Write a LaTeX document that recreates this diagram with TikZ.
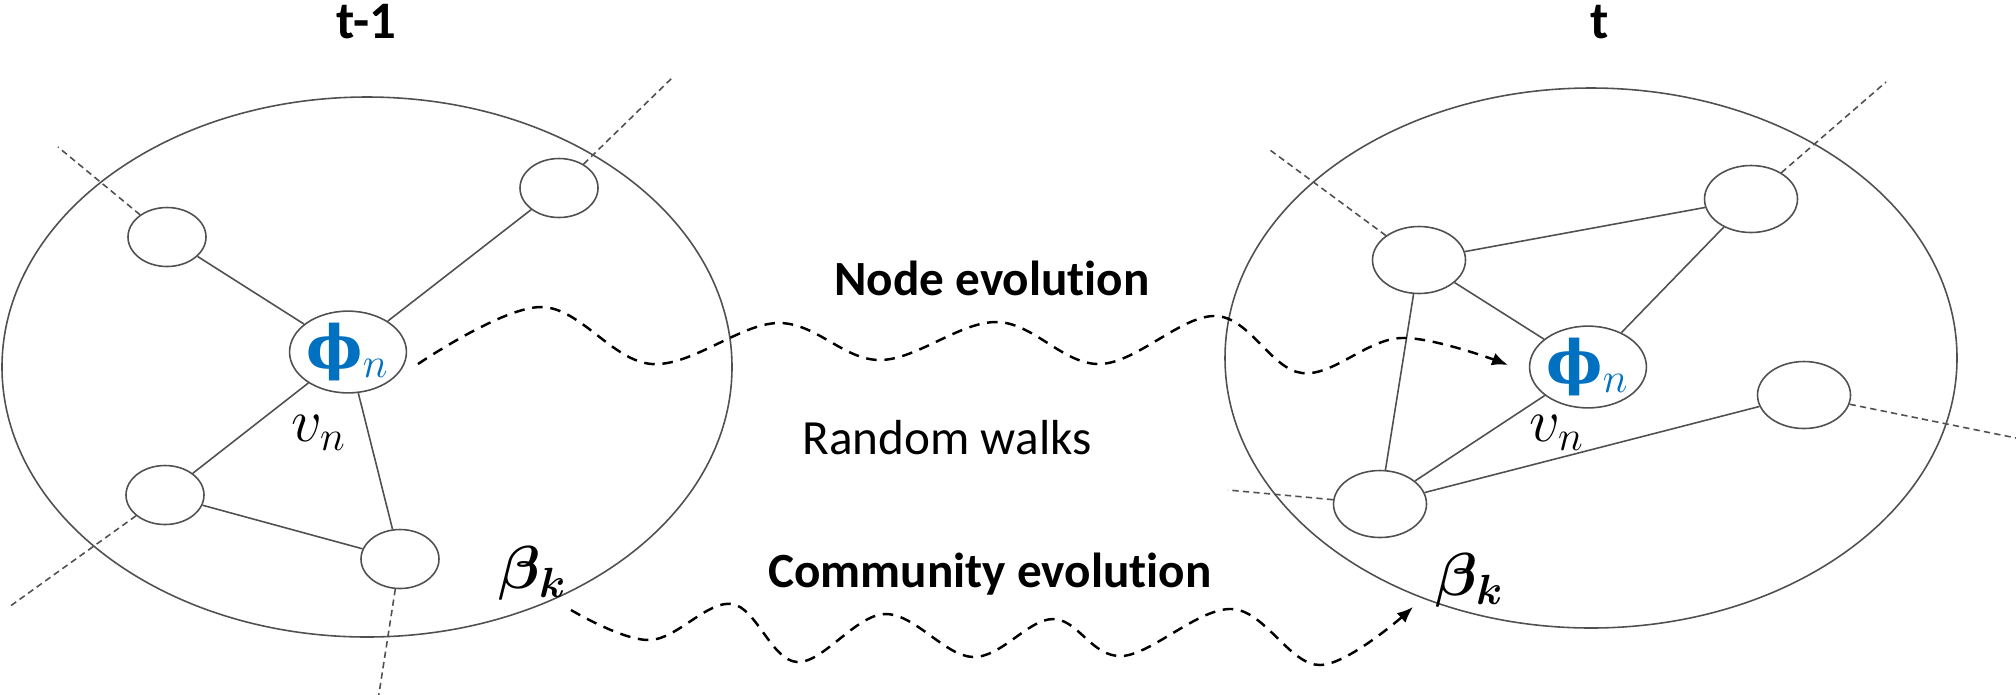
\documentclass[tikz,border=0pt]{standalone}
\usepackage{amsmath}
\usepackage{fontspec}
\setmainfont{Carlito}[Ligatures={NoCommon}]
\newfontfamily\phifont{DejaVu Serif}
\usetikzlibrary{shapes.geometric,arrows.meta}
\definecolor{phiblue}{RGB}{0,112,192}
\definecolor{linegray}{RGB}{80,80,80}
\tikzset{
  comm/.style={draw=linegray,ellipse,line width=0.45pt,minimum width=73mm,minimum height=54mm},
  vert/.style={draw=linegray,ellipse,line width=0.45pt,fill=white,inner sep=0pt,minimum width=7.8mm,minimum height=5.9mm},
  vertb/.style={vert,minimum width=9.3mm,minimum height=6.7mm},
  hub/.style={vert,minimum width=10.9mm,minimum height=7.7mm},
  link/.style={draw=linegray,line width=0.45pt},
  ext/.style={draw=linegray,line width=0.45pt,dash pattern=on 1.8pt off 1.2pt},
  walk/.style={line width=0.7pt,dash pattern=on 3pt off 2.2pt,-{Latex[length=1.6mm,width=1.3mm]}},
  title/.style={font=\fontsize{15}{18}\selectfont\bfseries},
  caption/.style={font=\fontsize{14}{17}\selectfont},
  mlabel/.style={font=\fontsize{17}{20}\selectfont}
}
\newcommand{\phin}{\textcolor{phiblue}{\fontsize{17}{20}\selectfont{\phifont\bfseries ϕ}$_{n}$}}

\begin{document}
\begin{tikzpicture}[x=0.1mm,y=-0.1mm]
\useasboundingbox (0,0) rectangle (2016,694);

% communities
\node[comm] (commL) at (367,367) {};
\node[comm,minimum width=73.2mm] (commR) at (1591,358) {};

\node[title] (tL) at (366,22) {t-1};
\node[title] (tR) at (1600,22) {t};

% graph at t-1
\node[vert] (aL) at (167,237) {};
\node[vert] (bL) at (559,188) {};
\node[hub] (vL) at (348,352) {\phin};
\node[vert] (cL) at (165,495) {};
\node[vert] (dL) at (400,559) {};
\node[mlabel] (vnL) at (319,433) {$v_n$};
\node[mlabel] (bkL) at (533,573) {$\boldsymbol{\beta_k}$};

\draw[link] (aL) -- (vL);
\draw[link] (bL) -- (vL);
\draw[link] (vL) -- (cL);
\draw[link] (vL) -- (dL);
\draw[link] (cL) -- (dL);

\coordinate (aLx) at (58,147);
\coordinate (bLx) at (674,76);
\coordinate (cLx) at (9,607);
\coordinate (dLx) at (378,700);
\draw[ext] (aL) -- (aLx);
\draw[ext] (bL) -- (bLx);
\draw[ext] (cL) -- (cLx);
\draw[ext] (dL) -- (dLx);

% graph at t
\node[vertb] (aR) at (1419,260) {};
\node[vertb] (bR) at (1751,199) {};
\node[hub] (vR) at (1588,367) {\phin};
\node[vertb] (eR) at (1804,395) {};
\node[vertb] (cR) at (1380,504) {};
\node[mlabel] (vnR) at (1557,433) {$v_n$};
\node[mlabel] (bkR) at (1470,580) {$\boldsymbol{\beta_k}$};

\draw[link] (aR) -- (bR);
\draw[link] (aR) -- (vR);
\draw[link] (bR) -- (vR);
\draw[link] (aR) -- (cR);
\draw[link] (cR) -- (vR);
\draw[link] (cR) -- (eR);

\coordinate (aRx) at (1270,150);
\coordinate (bRx) at (1886,82);
\coordinate (eRx) at (2016,438);
\coordinate (cRx) at (1228,490);
\draw[ext] (aR) -- (aRx);
\draw[ext] (bR) -- (bRx);
\draw[ext] (eR) -- (eRx);
\draw[ext] (cR) -- (cRx);

% evolution between the two steps
\node[caption,font=\fontsize{14}{17}\selectfont\bfseries] (nev) at (992,278) {Node evolution};
\node[caption] (rw) at (947,438) {Random walks};
\node[caption,font=\fontsize{14}{17}\selectfont\bfseries] (cev) at (990,574) {Community evolution};

\coordinate (nevS) at (418,364);
\coordinate (nevE) at (1508,365);
\draw[walk] plot[smooth,tension=0.6] coordinates {(nevS) (541,307) (652,364) (778,323) (880,360) (997,322) (1100,364) (1216,316) (1302,373) (1401,338) (nevE)};

\coordinate (cevS) at (571,610);
\coordinate (cevE) at (1413,607);
\draw[walk] plot[smooth,tension=0.6] coordinates {(cevS) (650,640) (732,604) (797,662) (885,614) (973,657) (1053,619) (1122,656) (1232,609) (1320,665) (cevE)};

\end{tikzpicture}
\end{document}
